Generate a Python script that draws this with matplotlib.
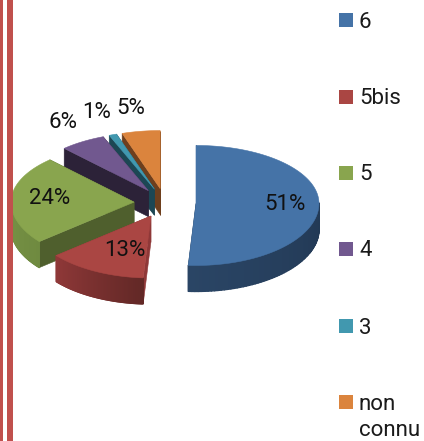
import numpy as np
import matplotlib
matplotlib.use("Agg")
import matplotlib.pyplot as plt
from matplotlib.collections import PolyCollection
from matplotlib.colors import to_rgb
from matplotlib.patches import Polygon, Rectangle

categories = ["6", "5bis", "5", "4", "3", "non\nconnu"]
values = [51, 13, 24, 6, 1, 5]
labels = ["51%", "13%", "24%", "6%", "1%", "5%"]
top_colors = ["#4573A7", "#AA4643", "#89A54E", "#71588F", "#4198AF", "#DB843D"]
side_start = ["#1A2C44", "#622826", "#6F8A40", "#2C2238", "#1C4754", "#7A4520"]
side_end = ["#2A4565", "#8F3838", "#7F9A4A", "#2C2238", "#1C4754", "#7A4520"]
cut_colors = ["#1B2E46", "#8F3838", "#4F5F2D", "#2C2238", "#1C4754", "#6E3F1D"]
label_pos = [(285, 204), (125, 250), (50, 198), (63, 122), (97, 112), (131, 109)]
legend_y = [20, 97, 173, 249, 326, 402]

CX, CY, RX, RY_BACK, RY_FRONT, DEPTH, EXPLODE = 165, 203, 123, 58, 62, 26, 31
FONT = "Roboto"
FS = 16

fig = plt.figure(figsize=(4.24, 4.41), dpi=100)
ax = fig.add_axes([0, 0, 1, 1])
ax.set_xlim(0, 424)
ax.set_ylim(441, 0)
ax.axis("off")


def pt(a, ox, oy):
    s = np.sin(a)
    return ox + RX * np.cos(a), oy - np.where(s >= 0, RY_BACK, RY_FRONT) * s


fractions = np.array(values, dtype=float) / sum(values)
ends = np.radians(90 - 360 * np.cumsum(fractions))
starts = np.concatenate(([np.radians(90)], ends[:-1]))
mids = (starts + ends) / 2

for i in [5, 4, 3, 2, 1, 0]:
    a0, a1, m = starts[i], ends[i], mids[i]
    ox = CX + EXPLODE * np.cos(m)
    oy = CY - EXPLODE * RY_BACK / RX * np.sin(m)
    ang = np.linspace(a0, a1, 120)
    xs, ys = pt(ang, ox, oy)

    # flat cut faces running from the apex to the rim
    for a in (a0, a1):
        ex, ey = pt(a, ox, oy)
        ax.add_patch(Polygon([(ox, oy), (ex, ey), (ex, ey + DEPTH), (ox, oy + DEPTH)],
                             closed=True, fc=cut_colors[i], ec=cut_colors[i], lw=0.4, zorder=i * -3 + 20))

    # rim, only its front half shows
    c0, c1 = np.array(to_rgb(side_start[i])), np.array(to_rgb(side_end[i]))
    polys, cols = [], []
    for j in range(len(ang) - 1):
        if np.sin((ang[j] + ang[j + 1]) / 2) < 0.02:
            polys.append([(xs[j], ys[j]), (xs[j + 1], ys[j + 1]),
                          (xs[j + 1], ys[j + 1] + DEPTH), (xs[j], ys[j] + DEPTH)])
            cols.append(c0 + (c1 - c0) * j / (len(ang) - 2))
    if polys:
        ax.add_collection(PolyCollection(polys, facecolors=cols, edgecolors=cols, linewidths=1.0,
                                         zorder=i * -3 + 21))

    # top
    verts = [(ox, oy)] + list(zip(xs, ys))
    ax.add_patch(Polygon(verts, closed=True, fc=top_colors[i], ec=top_colors[i], lw=0.4,
                         zorder=i * -3 + 22))

for text, (x, y) in zip(labels, label_pos):
    ax.text(x, y, text, ha="center", va="center", fontsize=FS, family=FONT, color="#111111", zorder=40)

for name, y, c in zip(categories, legend_y, top_colors):
    ax.add_patch(Rectangle((339, y - 7), 14, 14, fc=c, ec="none", zorder=40))
    for k, part in enumerate(name.split("\n")):
        ax.text(359, y + 2 + 26 * k, part, ha="left", va="center", fontsize=FS, family=FONT,
                color="#1a1a1a", zorder=40)

ax.add_patch(Rectangle((0, 0), 2.5, 441, fc="#C0504D", ec="none", zorder=50))
ax.add_patch(Rectangle((7, 0), 5.5, 441, fc="#C0504D", ec="none", zorder=50))

fig.savefig("out.png", dpi=100)
